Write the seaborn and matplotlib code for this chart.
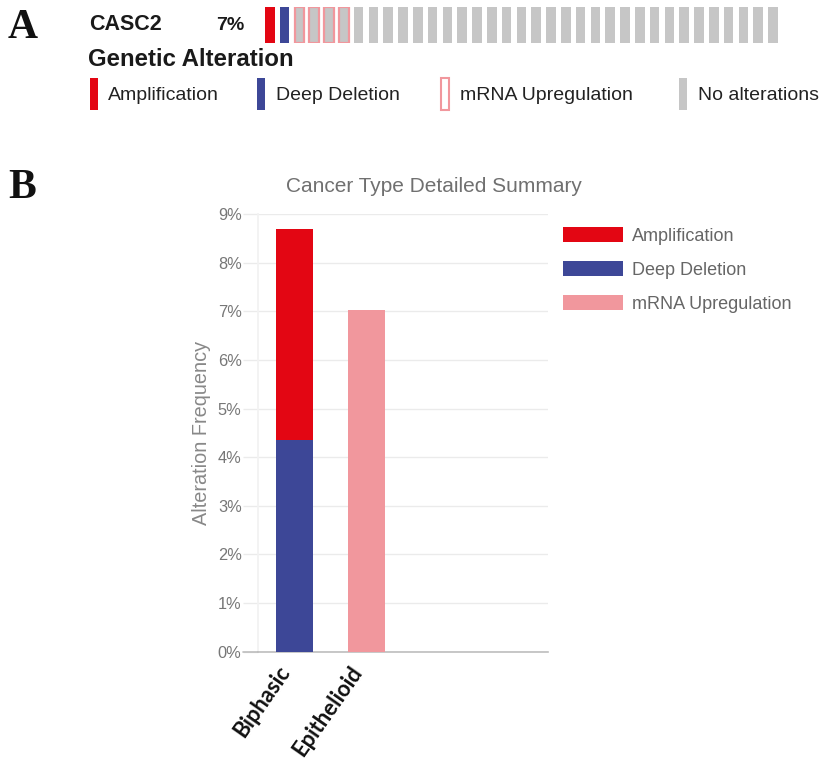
import matplotlib
matplotlib.use("Agg")
import matplotlib.pyplot as plt
from matplotlib.patches import Rectangle, Patch
from matplotlib.ticker import FuncFormatter
from matplotlib.transforms import ScaledTranslation
import seaborn as sns
import pandas as pd

# ---- data -----------------------------------------------------------------
gene = "CASC2"
gene_pct = "7%"

# per-sample alteration calls shown in the oncoprint track
sample_calls = (["Amplification", "Deep Deletion"]
                + ["mRNA Upregulation"] * 4
                + ["No alterations"] * 29)

alteration_types = ["Amplification", "Deep Deletion", "mRNA Upregulation", "No alterations"]
alteration_colors = ["#e30613", "#3d4797", "#f1979d", "#c6c6c6"]

cancer_types = ["Biphasic", "Epithelioid"]
amplification = [4.35, 0.0]      # % of samples
deep_deletion = [4.35, 0.0]
mrna_upregulation = [0.0, 7.02]

y_ticks = [0, 1, 2, 3, 4, 5, 6, 7, 8, 9]

# ---- figure ---------------------------------------------------------------
W, H = 820, 767
sns.set_theme(style="white")
plt.rcParams["font.family"] = ["Liberation Sans", "DejaVu Sans"]
fig = plt.figure(figsize=(W / 100, H / 100), dpi=100)
fig.patch.set_facecolor("white")


def fx(x):
    return x / W


def fy(y):
    return 1 - y / H


color_of = dict(zip(alteration_types, alteration_colors))

# ---- panel A: oncoprint track ----------------------------------------------
pitch = 14.8
n = len(sample_calls)
left_px = 262.4
axA = fig.add_axes([fx(left_px), fy(43), fx(pitch * n), (43 - 7) / H])
idx = list(range(n))
fills = [color_of["No alterations"] if c == "mRNA Upregulation" else color_of[c]
         for c in sample_calls]
axA.bar(idx, [1] * n, width=0.64, color=fills, linewidth=0)
up = [i for i, c in enumerate(sample_calls) if c == "mRNA Upregulation"]
axA.bar(up, [1] * len(up), width=0.64, color="none",
        edgecolor=color_of["mRNA Upregulation"], linewidth=1.6)
axA.set_xlim(-0.5, n - 0.5)
axA.set_ylim(0, 1)
axA.axis("off")

fig.text(fx(8), fy(38), "A", family="Liberation Serif", fontweight="bold",
         fontsize=30, ha="left", va="baseline", color="#111111")
fig.text(fx(89), fy(25), gene, fontweight="bold", fontsize=15.5,
         ha="left", va="center", color="#1a1a1a")
fig.text(fx(230), fy(25), gene_pct, fontweight="bold", fontsize=14,
         ha="center", va="center", color="#1a1a1a")
fig.text(fx(88), fy(59), "Genetic Alteration", fontweight="bold", fontsize=17.3,
         ha="left", va="center", color="#1a1a1a")

legend_x = [(90, 108), (257, 276), (441, 460), (679, 698)]
for (sx, tx), name in zip(legend_x, alteration_types):
    if name == "mRNA Upregulation":
        r = Rectangle((fx(sx), fy(110)), 8 / W, 32 / H, transform=fig.transFigure,
                      facecolor="white", edgecolor=color_of[name], linewidth=1.5)
    else:
        r = Rectangle((fx(sx), fy(110)), 8 / W, 32 / H, transform=fig.transFigure,
                      facecolor=color_of[name], edgecolor="none")
    fig.patches.append(r)
    fig.text(fx(tx), fy(95), name, fontsize=14, ha="left", va="center",
             color="#222222")

# ---- panel B: stacked bar summary ------------------------------------------
fig.text(fx(8), fy(198), "B", family="Liberation Serif", fontweight="bold",
         fontsize=30, ha="left", va="baseline", color="#111111")

axB = fig.add_axes([fx(258), fy(651.7), fx(290), (651.7 - 214) / H])

df = pd.DataFrame({
    "type": cancer_types,
    "Deep Deletion": deep_deletion,
    "Amplification": amplification,
    "mRNA Upregulation": mrna_upregulation,
})
stack_order = ["Deep Deletion", "Amplification", "mRNA Upregulation"]
cum = df[stack_order].cumsum(axis=1)
# draw from the tallest cumulative layer down so lower segments sit on top
for name in reversed(stack_order):
    sns.barplot(x=df["type"], y=cum[name], color=color_of[name], width=0.51,
                saturation=1, ax=axB, linewidth=0, zorder=3)

axB.set_xlim(-0.5, 3.5)
axB.set_ylim(0, 9)
axB.set_yticks(y_ticks)
axB.yaxis.set_major_formatter(FuncFormatter(lambda v, p: f"{v:.0f}%"))
axB.grid(axis="y", color="#ebebeb", linewidth=1, zorder=0)
axB.tick_params(axis="y", length=10.8, width=1, color="#ebebeb", pad=1,
                labelsize=11.8, labelcolor="#777777", left=True)
for s in ["top", "right"]:
    axB.spines[s].set_visible(False)
axB.spines["left"].set_color("#f2f2f2")
axB.spines["bottom"].set_color("#bdbdbd")
axB.spines["bottom"].set_linewidth(1.2)
axB.axhline(0, xmin=-15 / 290, xmax=0, color="#bdbdbd", linewidth=1.2,
            clip_on=False, zorder=4)

axB.set_xlabel("")
axB.set_ylabel("Alteration Frequency", fontsize=14.3, color="#888888", labelpad=5)
axB.tick_params(axis="x", length=0, pad=12)
shift = ScaledTranslation(-9 / 100, 0, fig.dpi_scale_trans)
for lab in axB.get_xticklabels():
    lab.set_rotation(55)
    lab.set_rotation_mode("anchor")
    lab.set_ha("right")
    lab.set_va("center")
    lab.set_fontfamily(["Lato", "DejaVu Sans"])
    lab.set_fontweight("bold")
    lab.set_fontsize(15.8)
    lab.set_color("#111111")
    lab.set_transform(lab.get_transform() + shift)

axB.set_title("Cancer Type Detailed Summary", fontsize=15, color="#707070",
              x=(434 - 258) / 290, pad=16)

handles = [Patch(facecolor=color_of[n_], edgecolor="none") for n_ in
           ["Amplification", "Deep Deletion", "mRNA Upregulation"]]
leg = axB.legend(handles, ["Amplification", "Deep Deletion", "mRNA Upregulation"],
                 loc="upper left", bbox_to_anchor=(fx(563), fy(227)),
                 bbox_transform=fig.transFigure, frameon=False, fontsize=13,
                 handlelength=3.32, handleheight=0.94, handletextpad=0.5,
                 labelspacing=0.88, borderaxespad=0, borderpad=0)
for t in leg.get_texts():
    t.set_color("#666666")

fig.savefig("out.png", dpi=100, facecolor="white")
